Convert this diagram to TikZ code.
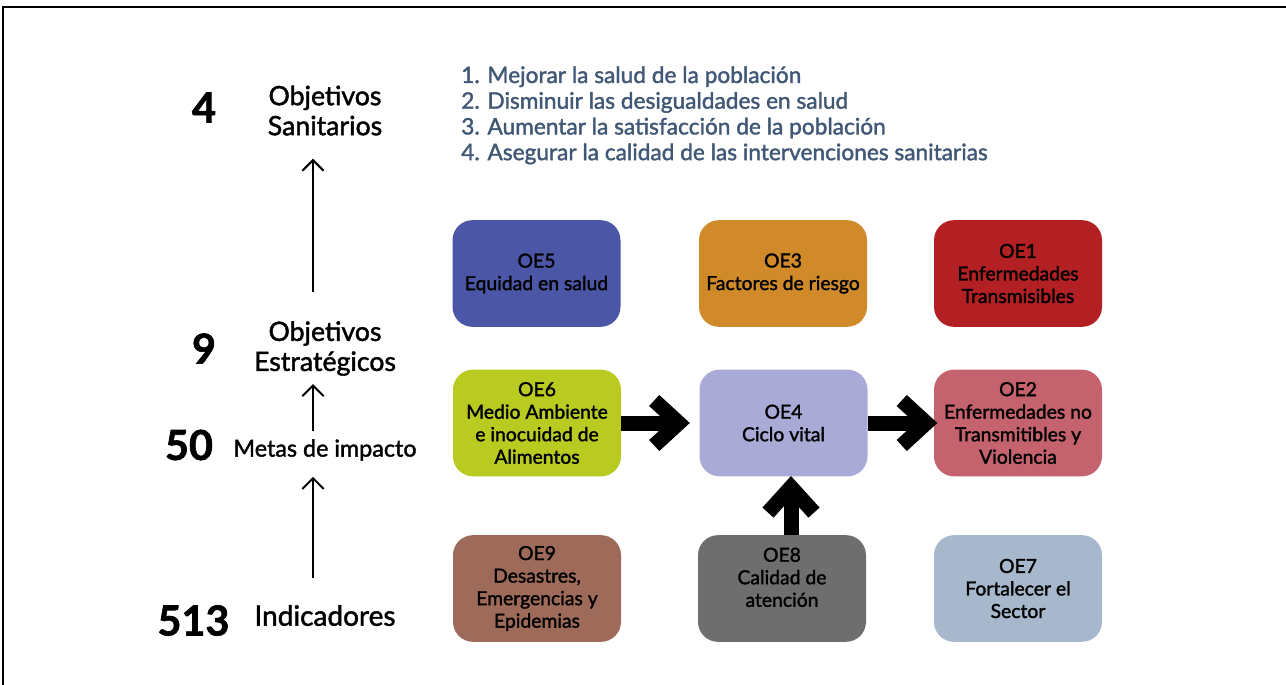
\documentclass[tikz,border=0pt]{standalone}
\usepackage{fontspec}
\setmainfont{Lato}[FakeBold=1.6]
\usetikzlibrary{arrows.meta,calc}

\tikzset{
oebox/.style={rounded corners=15pt, minimum width=126pt, minimum height=80pt, inner sep=0pt, align=center, font=\fontsize{14.5}{16.9}\selectfont},
levelnum/.style={inner sep=0pt, font=\fontsize{31}{31}\selectfont\bfseries},
levellbl/.style={inner sep=0pt, align=center, font=\fontsize{20}{22.5}\selectfont},
levelarrow/.style={line width=1.5pt, -{Straight Barb[length=8pt,width=16pt]}},
fatline/.style={line width=11.25pt, line join=miter},
}

\begin{document}
\begin{tikzpicture}[x=0.75pt,y=0.75pt,yscale=-1,xscale=1]
\useasboundingbox (0,0) rectangle (1286,685);

%Frame
\draw [line width=1.2pt] (3,685) -- (3,7) -- (1286,7) ;

%Levels on the left
\node [levelnum] (n4) at (204,107.5) {4};
\node [levellbl] (san) at (325,110.5) {Objetivos\\Sanitarios};
\node [levelnum] (n9) at (204,348.5) {9};
\node [levellbl] (est) at (325,348.5) {Objetivos\\Estratégicos};
\node [levelnum] (n50) at (189,445) {50};
\node [levellbl, font=\fontsize{17.5}{20}\selectfont] (metas) at (325,450) {Metas de impacto};
\node [levelnum] (n513) at (193.5,620.5) {513};
\node [levellbl, font=\fontsize{21}{22.5}\selectfont] (ind) at (325,615.5) {Indicadores};

%Straight Lines
\draw [levelarrow] ($(est.north)+(-12,-29)$) -- ($(san.south)+(-12,23)$) ;
\draw [levelarrow] ($(metas.north)+(-12,-8)$) -- ($(est.south)+(-12,8)$) ;
\draw [levelarrow] ($(ind.north)+(-12,-27)$) -- ($(metas.south)+(-12,16)$) ;

%Text: list of sanitary objectives
\node [anchor=north west, inner sep=0pt, align=left, color={rgb, 255:red, 64; green, 87; blue, 117 }, font=\fontsize{17}{19.3}\selectfont] (lista) at (461,66) {1. Mejorar la salud de la población\\2. Disminuir las desigualdades en salud\\3. Aumentar la satisfacción de la población\\4. Asegurar la calidad de las intervenciones sanitarias};

%Shape: Rounded Rects, top row
\node [oebox, fill={rgb, 255:red, 75; green, 87; blue, 166 }] (oe5) at (536.5,273.5) {OE5\\Equidad en salud};
\node [oebox, fill={rgb, 255:red, 208; green, 138; blue, 41 }] (oe3) at (783,273.5) {OE3\\Factores de riesgo};
\node [oebox, fill={rgb, 255:red, 178; green, 32; blue, 36 }] (oe1) at (1018,273.5) {OE1\\Enfermedades\\Transmisibles};
%Shape: Rounded Rects, middle row
\node [oebox, fill={rgb, 255:red, 185; green, 203; blue, 32 }] (oe6) at (537,423) {OE6\\Medio Ambiente\\e inocuidad de\\Alimentos};
\node [oebox, fill={rgb, 255:red, 170; green, 170; blue, 215 }] (oe4) at (783.5,423) {OE4\\Ciclo vital};
\node [oebox, fill={rgb, 255:red, 196; green, 98; blue, 110 }] (oe2) at (1018,423) {OE2\\Enfermedades no\\Transmitibles y\\Violencia};
%Shape: Rounded Rects, bottom row
\node [oebox, fill={rgb, 255:red, 158; green, 107; blue, 90 }] (oe9) at (537,588.5) {OE9\\Desastres,\\Emergencias y\\Epidemias};
\node [oebox, fill={rgb, 255:red, 110; green, 110; blue, 110 }] (oe8) at (782,588.5) {OE8\\Calidad de\\atención\\\mbox{}};
\node [oebox, fill={rgb, 255:red, 168; green, 184; blue, 204 }] (oe7) at (1018,588.5) {OE7\\Fortalecer el\\Sector};

%Block arrows
\draw [fatline] (oe6.east) -- ($(oe4.west)+(-28,0)$) ;
\draw [fatline] ($(oe4.west)+(-45,-22.5)$) -- ++(24.5,22.5) -- ++(-24.5,22.5) ;
\draw [fatline] (oe4.east) -- ($(oe2.west)+(-15,0)$) ;
\draw [fatline] ($(oe2.west)+(-32,-22.5)$) -- ++(24.5,22.5) -- ++(-24.5,22.5) ;
\draw [fatline] ($(oe8.north)+(9,0)$) -- ($(oe4.south)+(7.5,18)$) ;
\draw [fatline] ($(oe4.south)+(-15.5,36)$) -- ++(23,-25.4) -- ++(23,25.4) ;
\end{tikzpicture}
\end{document}
